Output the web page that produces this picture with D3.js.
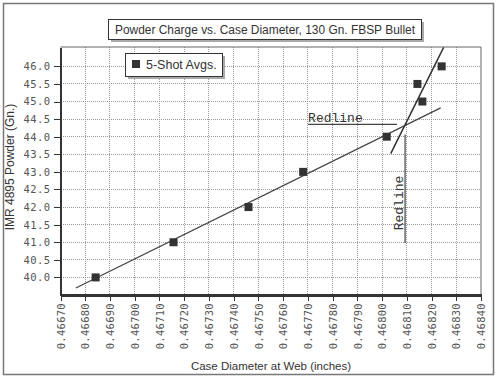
<!DOCTYPE html>
<html lang="en">
<head>
    <meta charset="UTF-8">
    <title>Powder Charge vs. Case Diameter</title>
    <script src="https://d3js.org/d3.v7.min.js"></script>
    <style>
        body { margin: 0; background: white; }
        .axis path, .axis line { stroke: #333; shape-rendering: crispEdges; }
        .axis text { font-family: "DejaVu Sans Mono", monospace; font-size: 10.5px; fill: #555; }
        .grid line { stroke: #999; stroke-dasharray: 1,1; shape-rendering: crispEdges; }
    </style>
</head>
<body>
<script>
    // chart data
    var diam = [0.466842, 0.467157, 0.46746, 0.467681, 0.468019, 0.468143, 0.468163, 0.468241];
    var powder = [40.0, 41.0, 42.0, 43.0, 44.0, 45.5, 45.0, 46.0];
    var xTicks = [0.46670, 0.46680, 0.46690, 0.46700, 0.46710, 0.46720, 0.46730, 0.46740, 0.46750,
                  0.46760, 0.46770, 0.46780, 0.46790, 0.46800, 0.46810, 0.46820, 0.46830, 0.46840];
    var yTicks = [40.0, 40.5, 41.0, 41.5, 42.0, 42.5, 43.0, 43.5, 44.0, 44.5, 45.0, 45.5, 46.0];
    // trend lines drawn on the original
    var fitLow = [[0.466762, 39.70], [0.468237, 44.82]];
    var fitHigh = [[0.468035, 43.52], [0.468249, 46.54]];
    // redline markers
    var redH = [[0.467701, 44.35], [0.468060, 44.35]];
    var redV = [[0.468093, 44.06], [0.468093, 40.98]];

    var svg = d3.select("body").append("svg")
        .attr("width", 500)
        .attr("height", 378);

    // outer frame
    svg.append("rect")
        .attr("x", 3.5).attr("y", 3.5).attr("width", 490).attr("height", 371)
        .attr("fill", "white").attr("stroke", "#777").attr("stroke-width", 1.5);

    var xScale = d3.scaleLinear().domain([0.46670, 0.46840]).range([60.5, 481]);
    var yScale = d3.scaleLinear().domain([39.5, 46.55]).range([295, 47]);

    // grid
    var grid = svg.append("g").attr("class", "grid");
    grid.selectAll(".vg").data(xTicks.slice(1, -1)).enter().append("line")
        .attr("x1", d => xScale(d)).attr("x2", d => xScale(d))
        .attr("y1", yScale.range()[1]).attr("y2", yScale.range()[0]);
    grid.selectAll(".hg").data(yTicks).enter().append("line")
        .attr("x1", xScale.range()[0]).attr("x2", xScale.range()[1])
        .attr("y1", d => yScale(d)).attr("y2", d => yScale(d));

    // top and right border
    svg.append("path")
        .attr("d", "M" + xScale.range()[0] + "," + yScale.range()[1] + "H" + xScale.range()[1] + "V" + yScale.range()[0])
        .attr("fill", "none").attr("stroke", "#666").attr("stroke-width", 1);

    // axes
    var xAxis = d3.axisBottom(xScale).tickValues(xTicks).tickFormat(d3.format(".5f")).tickSize(6).tickSizeOuter(0);
    var yAxis = d3.axisLeft(yScale).tickValues(yTicks).tickFormat(d3.format(".1f")).tickSize(7).tickSizeOuter(0);

    var gx = svg.append("g").attr("class", "axis").attr("transform", "translate(0,295)").call(xAxis);
    gx.select(".domain").attr("stroke-width", 2.5);
    gx.selectAll("text")
        .attr("transform", "rotate(-90)")
        .attr("x", -8).attr("y", 0).attr("dy", "0.35em")
        .style("text-anchor", "end")
        .style("letter-spacing", "0.3px");

    var gy = svg.append("g").attr("class", "axis").attr("transform", "translate(60.5,0)").call(yAxis);
    gy.select(".domain").attr("stroke-width", 2.5);
    gy.selectAll("text").attr("x", -10).style("letter-spacing", "0.4px");

    // lines
    var line = d3.line().x(d => xScale(d[0])).y(d => yScale(d[1]));
    svg.append("path").datum(fitLow).attr("d", line)
        .attr("fill", "none").attr("stroke", "#444").attr("stroke-width", 1.3);
    svg.append("path").datum(fitHigh).attr("d", line)
        .attr("fill", "none").attr("stroke", "#333").attr("stroke-width", 1.5);

    // redline annotations
    svg.append("path").datum(redH).attr("d", line)
        .attr("fill", "none").attr("stroke", "#444").attr("stroke-width", 1.2);
    svg.append("text")
        .attr("x", xScale(redH[0][0])).attr("y", yScale(redH[0][1]) - 2.5)
        .attr("font-family", "Liberation Mono, monospace").attr("font-size", 13)
        .attr("fill", "#333").text("Redline");
    svg.append("path").datum(redV).attr("d", line)
        .attr("fill", "none").attr("stroke", "#444").attr("stroke-width", 1.2);
    svg.append("text")
        .attr("transform", "translate(" + (xScale(redV[0][0]) - 2) + "," + 203 + ") rotate(-90)")
        .attr("text-anchor", "middle")
        .attr("font-family", "Liberation Mono, monospace").attr("font-size", 13)
        .attr("fill", "#333").text("Redline");

    // points
    svg.selectAll(".pt").data(diam).enter().append("rect")
        .attr("x", d => xScale(d) - 4)
        .attr("y", (d, i) => yScale(powder[i]) - 4)
        .attr("width", 8).attr("height", 8)
        .attr("fill", "#333");

    // title box
    svg.append("rect").attr("x", 111).attr("y", 22).attr("width", 313).attr("height", 20).attr("fill", "#aaa");
    svg.append("rect").attr("x", 108.5).attr("y", 19.5).attr("width", 313).attr("height", 20)
        .attr("fill", "white").attr("stroke", "#333").attr("stroke-width", 1);
    svg.append("text").attr("x", 265).attr("y", 34)
        .attr("text-anchor", "middle")
        .attr("font-family", "Liberation Sans, Arial, sans-serif").attr("font-size", 12)
        .attr("textLength", 300).attr("lengthAdjust", "spacingAndGlyphs")
        .attr("fill", "#333").text("Powder Charge vs. Case Diameter, 130 Gn. FBSP Bullet");

    // legend
    svg.append("rect").attr("x", 128).attr("y", 56).attr("width", 97).attr("height", 23).attr("fill", "#aaa");
    svg.append("rect").attr("x", 125.5).attr("y", 53.5).attr("width", 97).attr("height", 23)
        .attr("fill", "white").attr("stroke", "#333").attr("stroke-width", 1);
    svg.append("rect").attr("x", 132).attr("y", 60).attr("width", 8).attr("height", 8).attr("fill", "#333");
    svg.append("text").attr("x", 146).attr("y", 69)
        .attr("font-family", "Liberation Sans, Arial, sans-serif").attr("font-size", 12.5)
        .attr("fill", "#333").text("5-Shot Avgs.");

    // axis titles
    svg.append("text").attr("x", 271).attr("y", 370)
        .attr("text-anchor", "middle")
        .attr("font-family", "Liberation Sans, Arial, sans-serif").attr("font-size", 11.5)
        .attr("fill", "#333").text("Case Diameter at Web (inches)");
    svg.append("text")
        .attr("transform", "translate(14,167) rotate(-90)")
        .attr("text-anchor", "middle")
        .attr("font-family", "Liberation Sans, Arial, sans-serif").attr("font-size", 12)
        .attr("fill", "#333").text("IMR 4895 Powder (Gn.)");
</script>
</body>
</html>
